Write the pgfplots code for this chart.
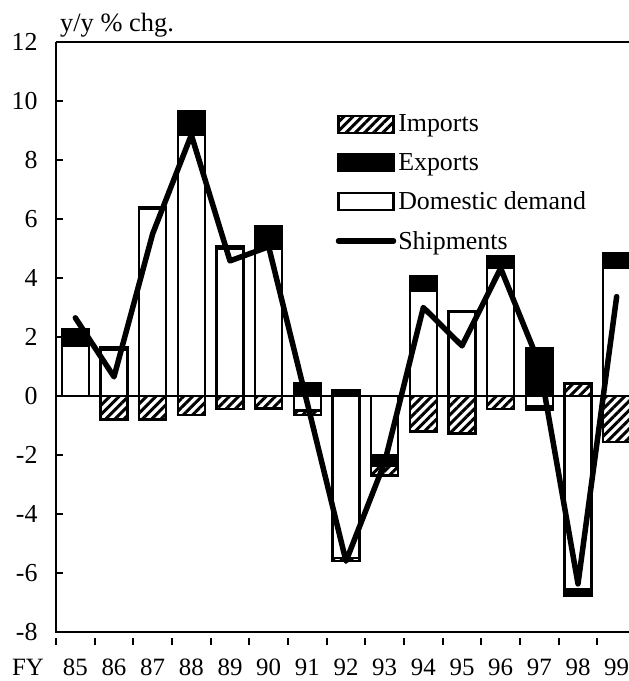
\documentclass[border=0pt]{standalone}
\usepackage{fontspec}
\setmainfont{Liberation Serif}
\usepackage{pgfplots}
\usepackage{pgfplotstable}
\pgfplotsset{compat=1.18}
\usetikzlibrary{patterns.meta}

\pgfplotsset{
  boxlegend/.style={legend image code/.code={\draw[##1] (0bp,-8.5bp) rectangle (55bp,8.5bp);}},
  linelegend/.style={legend image code/.code={\draw[##1] (0bp,0bp) -- (55bp,0bp);}},
}

\pgfplotstableread{
x dom exp imp ship
0 1.70 0.58 0.00 2.65
1 1.56 0.08 -0.79 0.65
2 6.35 0.05 -0.80 5.50
3 8.85 0.82 -0.64 8.85
4 5.00 0.08 -0.45 4.58
5 5.00 0.77 -0.42 5.06
6 -0.49 0.43 -0.16 -0.25
7 -5.50 0.20 -0.10 -5.60
8 -2.00 -0.36 -0.33 -2.25
9 3.57 0.50 -1.21 3.00
10 2.86 0.00 -1.27 1.70
11 4.36 0.39 -0.44 4.33
12 -0.35 1.62 -0.11 1.10
13 -6.56 -0.22 0.42 -6.37
14 4.33 0.51 -1.55 3.37
}\datatable

\begin{document}
\begin{tikzpicture}
\useasboundingbox (-56bp,-49bp) rectangle (573bp,632bp);
\begin{axis}[
  scale only axis,
  width=580bp, height=590bp,
  xmin=-0.5, xmax=14.5,
  ymin=-8, ymax=12,
  ytick={-8,-6,...,12},
  xtick={-0.5,0.5,...,14.5},
  x tick label as interval,
  xticklabels={{\llap{FY\hspace{19bp}}85},86,87,88,89,90,91,92,93,94,95,96,97,98,99},
  axis line style={draw=none},
  tick align=inside,
  xtick pos=left, ytick pos=left,
  major tick length=7bp,
  every tick/.style={black, line width=1.8bp},
  xtick style={yshift=-6bp},
  /pgf/number format/assume math mode=true,
  ticklabel style={font=\fontsize{25}{29}\selectfont},
  yticklabel style={xshift=-15bp, font=\fontsize{26}{30}\selectfont},
  xticklabel style={yshift=-16bp},
  ybar, bar width=0.7, bar shift=0pt,
  legend cell align=left,
  legend style={draw=none, fill=none, at={(rel axis cs:0.482,0.880)}, anchor=north west,
    font=\fontsize{26}{30}\selectfont, row sep=16bp, inner sep=0pt},
  after end axis/.code={
    \draw[line width=2bp] (rel axis cs:0,1) -- (rel axis cs:0,0) -- (rel axis cs:1,0);
    \draw[line width=2bp] (rel axis cs:0,1) -- (rel axis cs:1,1);
    \node[anchor=base west, inner sep=0pt, font=\fontsize{26.5}{30}\selectfont] at ([xshift=4bp,yshift=10bp]rel axis cs:0,1) {y/y \% chg.};
  },
]
\addplot[sharp plot, line width=1.8bp, black, forget plot] coordinates {(-0.5,0) (14.5,0)};
% Imports (outermost)
\addplot[draw=black, line width=2.4bp, pattern={Lines[angle=45,distance=6.5bp,line width=3bp]}, boxlegend]
  table[x=x, y expr={max(\thisrow{dom},0)+max(\thisrow{exp},0)+max(\thisrow{imp},0)}]{\datatable};
\addlegendentry{Imports}
\addplot[draw=black, line width=2.4bp, pattern={Lines[angle=45,distance=6.5bp,line width=3bp]}, forget plot]
  table[x=x, y expr={min(\thisrow{dom},0)+min(\thisrow{exp},0)+min(\thisrow{imp},0)}]{\datatable};
% Exports
\addplot[draw=black, line width=2.4bp, fill=black, boxlegend]
  table[x=x, y expr={max(\thisrow{dom},0)+max(\thisrow{exp},0)}]{\datatable};
\addlegendentry{Exports}
\addplot[draw=black, line width=2.4bp, fill=black, forget plot]
  table[x=x, y expr={min(\thisrow{dom},0)+min(\thisrow{exp},0)}]{\datatable};
% Domestic demand
\addplot[draw=black, line width=2.4bp, fill=white, boxlegend]
  table[x=x, y expr={max(\thisrow{dom},0)}]{\datatable};
\addlegendentry{Domestic demand}
\addplot[draw=black, line width=2.4bp, fill=white, forget plot]
  table[x=x, y expr={min(\thisrow{dom},0)}]{\datatable};
% Shipments
\addplot[sharp plot, black, line width=5.5bp, line join=round, line cap=round, mark=none, linelegend]
  table[x=x, y=ship]{\datatable};
\addlegendentry{Shipments}
\end{axis}
\end{tikzpicture}
\end{document}
